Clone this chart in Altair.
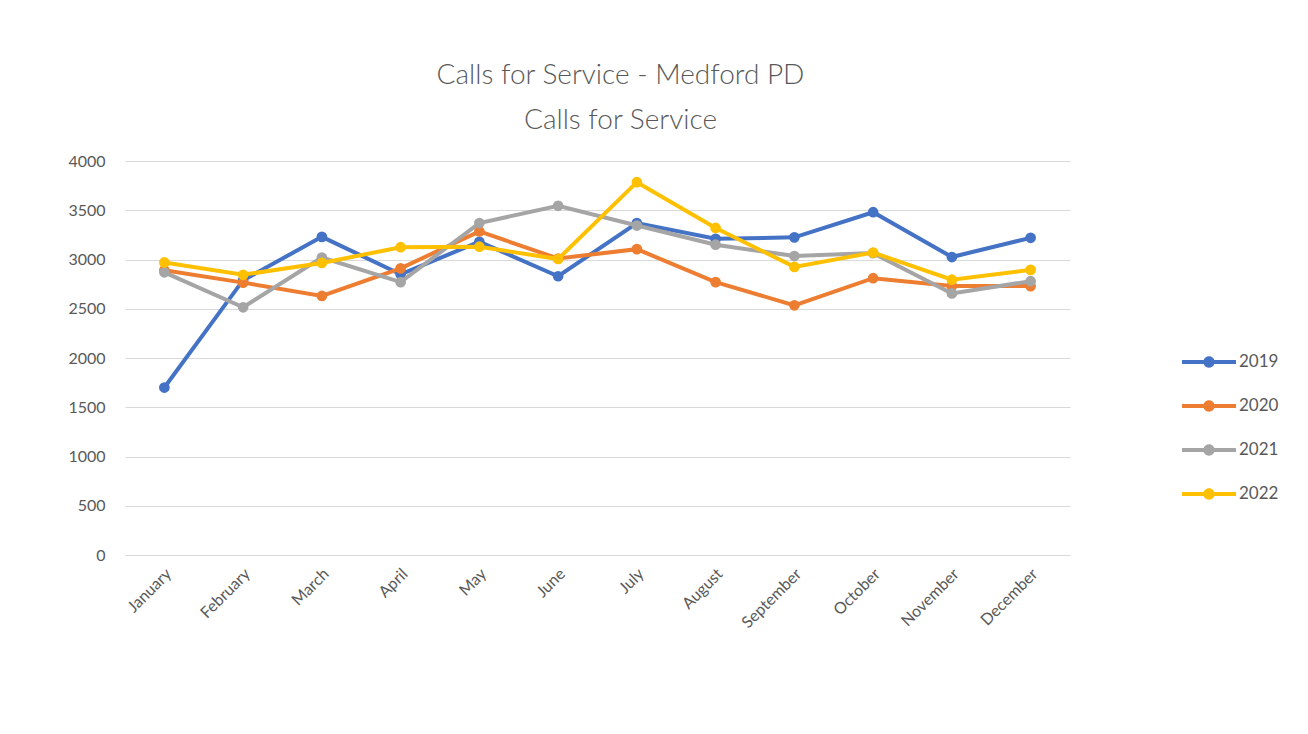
import altair as alt
import pandas as pd

months = ["January", "February", "March", "April", "May", "June", "July",
          "August", "September", "October", "November", "December"]
years = ["2019", "2020", "2021", "2022"]
v2019 = [1700, 2790, 3230, 2850, 3180, 2830, 3370, 3210, 3225, 3480, 3025, 3220]
v2020 = [2890, 2765, 2630, 2910, 3285, 3010, 3105, 2770, 2535, 2810, 2730, 2730]
v2021 = [2870, 2515, 3020, 2770, 3370, 3545, 3345, 3150, 3035, 3065, 2655, 2780]
v2022 = [2970, 2845, 2965, 3125, 3130, 3005, 3785, 3320, 2925, 3070, 2795, 2895]
colors = ["#4472C4", "#ED7D31", "#A5A5A5", "#FFC000"]

series = {"2019": v2019, "2020": v2020, "2021": v2021, "2022": v2022}
rows = []
for y in years:
    for m, v in zip(months, series[y]):
        rows.append({"Month": m, "Year": y, "Calls": v})
df = pd.DataFrame(rows)

FONT = "Lato"
GREY = "#595959"

x_enc = alt.X("Month:N", sort=months, title=None,
              scale=alt.Scale(type="point", padding=0.5),
              axis=alt.Axis(labelAngle=-45, labelAlign="right", labelBaseline="middle",
                            labelPadding=16, labelOffset=4, ticks=False,
                            domainColor="#D9D9D9", domainWidth=1, grid=False,
                            labelFontSize=16, labelColor=GREY, labelFont=FONT))
y_enc = alt.Y("Calls:Q", title=None,
              scale=alt.Scale(domain=[0, 4000]),
              axis=alt.Axis(values=list(range(0, 4001, 500)), format="d",
                            ticks=False, domain=False, labelPadding=20,
                            gridColor="#D9D9D9", gridWidth=1,
                            labelFontSize=16, labelColor=GREY, labelFont=FONT))
color_scale = alt.Scale(domain=years, range=colors)

legend_path = ("M-1,-0.075L1,-0.075L1,0.075L-1,0.075Z "
               "M0.21,0A0.21,0.21 0 1,1 -0.21,0A0.21,0.21 0 1,1 0.21,0Z")
legend = alt.Legend(title=None, orient="none", legendX=1057, legendY=179,
                    symbolType=legend_path, symbolSize=2916,
                    symbolStrokeWidth=0, clipHeight=44, rowPadding=0,
                    labelOffset=3, labelFontSize=17,
                    labelColor=GREY, labelFont=FONT)
color_enc = alt.Color("Year:N", scale=color_scale, legend=legend)

layers = []
for i, y in enumerate(years):
    base = alt.Chart(df).transform_filter(alt.datum.Year == y)
    line = base.mark_line(strokeWidth=4).encode(x=x_enc, y=y_enc, color=color_enc)
    pts = base.mark_point(filled=True, size=115, opacity=1).encode(
        x=x_enc, y=y_enc, color=color_enc)
    layers += [line, pts]

chart = alt.layer(*layers).properties(
    width=945, height=394,
    title=alt.TitleParams(["Calls for Service - Medford PD", "Calls for Service"],
                          fontSize=28, font=FONT, fontWeight=300, color=GREY,
                          lineHeight=45, anchor="middle", dx=23, offset=18),
    autosize=alt.AutoSizeParams(type="none"),
    padding={"left": 117, "top": 153, "right": 230, "bottom": 165},
).configure_view(stroke=None)

chart.save("out.html", embed_options={"renderer": "svg", "actions": False})
